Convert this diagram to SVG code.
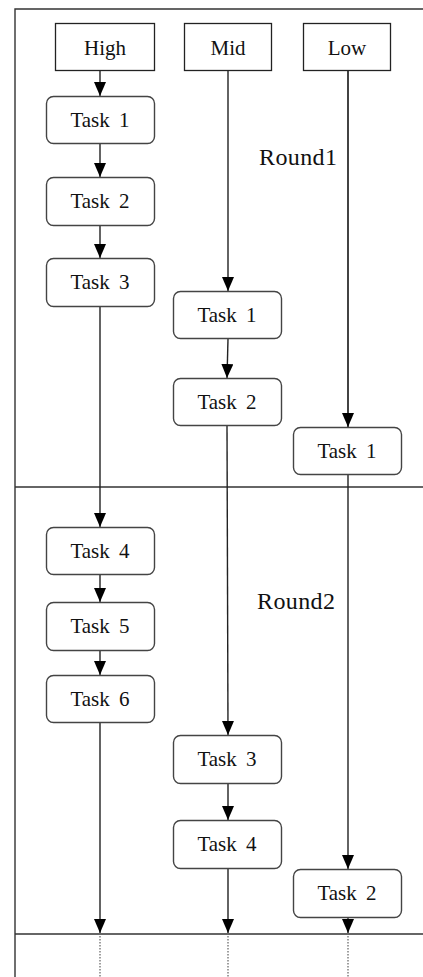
<svg xmlns="http://www.w3.org/2000/svg" width="423" height="977" viewBox="0 0 423 977">
<defs>
<marker id="ah" viewBox="0 0 14 12" refX="14" refY="6" markerWidth="14" markerHeight="12" markerUnits="userSpaceOnUse" orient="auto">
<path d="M0,0 L14,6 L0,12 Z" fill="#000"/>
</marker>
</defs>
<style>
.frame{stroke:#333;stroke-width:1.4;fill:none}
.hdr{fill:#fff;stroke:#222;stroke-width:1.3}
.task{fill:#fff;stroke:#444;stroke-width:1.4}
.t{font-family:"Liberation Serif","Times New Roman",serif;font-size:21px;fill:#111;text-anchor:middle;word-spacing:4px}
.r{font-family:"Liberation Serif","Times New Roman",serif;font-size:24px;fill:#111;letter-spacing:0.4px}
.c{stroke:#222;stroke-width:1.4;fill:none}
.d{stroke:#777;stroke-width:1.4;fill:none;stroke-dasharray:1.5 1.5}
</style>
<g id="frame">
<path class="frame" d="M15,977 L15,9 L423,9"/>
<line class="frame" x1="15" y1="487" x2="423" y2="487"/>
<line class="frame" x1="15" y1="934" x2="423" y2="934"/>
</g>
<g id="connectors">
<line class="c" x1="100" y1="70" x2="100" y2="96" marker-end="url(#ah)"/>
<line class="c" x1="100" y1="144" x2="100" y2="177" marker-end="url(#ah)"/>
<line class="c" x1="100" y1="226" x2="100" y2="258" marker-end="url(#ah)"/>
<line class="c" x1="100" y1="307" x2="100" y2="527" marker-end="url(#ah)"/>
<line class="c" x1="100" y1="575" x2="100" y2="602" marker-end="url(#ah)"/>
<line class="c" x1="100" y1="651" x2="100" y2="675" marker-end="url(#ah)"/>
<line class="c" x1="100" y1="723" x2="100" y2="933" marker-end="url(#ah)"/>
<line class="c" x1="228" y1="70" x2="228" y2="291" marker-end="url(#ah)"/>
<line class="c" x1="228" y1="339" x2="227" y2="378" marker-end="url(#ah)"/>
<line class="c" x1="227" y1="426" x2="228" y2="735" marker-end="url(#ah)"/>
<line class="c" x1="228" y1="784" x2="228" y2="820" marker-end="url(#ah)"/>
<line class="c" x1="228" y1="869" x2="228" y2="933" marker-end="url(#ah)"/>
<line class="c" x1="348" y1="70" x2="348" y2="427" marker-end="url(#ah)" style="stroke-width:1.7"/>
<line class="c" x1="348" y1="475" x2="348" y2="869" marker-end="url(#ah)"/>
<line class="c" x1="348" y1="918" x2="348" y2="933" marker-end="url(#ah)"/>
<line class="d" x1="100" y1="936" x2="100" y2="977"/>
<line class="d" x1="228" y1="936" x2="228" y2="977"/>
<line class="d" x1="348" y1="936" x2="348" y2="977"/>
</g>
<g id="high"><rect class="hdr" x="55.5" y="23.5" width="99" height="47"/><text class="t" x="105" y="55">High</text></g>
<g id="mid"><rect class="hdr" x="184.5" y="23.5" width="87" height="47"/><text class="t" x="228" y="55">Mid</text></g>
<g id="low"><rect class="hdr" x="303.5" y="23.5" width="87" height="47"/><text class="t" x="347" y="55">Low</text></g>
<g id="round1"><text class="r" x="259" y="165">Round1</text></g>
<g id="round2"><text class="r" x="257" y="609">Round2</text></g>
<g id="h-task1"><rect class="task" x="46.5" y="96.5" width="108" height="47" rx="7"/><text class="t" x="100" y="127">Task 1</text></g>
<g id="h-task2"><rect class="task" x="46.5" y="177.5" width="108" height="48" rx="7"/><text class="t" x="100" y="208">Task 2</text></g>
<g id="h-task3"><rect class="task" x="46.5" y="258.5" width="108" height="48" rx="7"/><text class="t" x="100" y="289">Task 3</text></g>
<g id="m-task1"><rect class="task" x="173.5" y="291.5" width="108" height="47" rx="7"/><text class="t" x="227" y="322">Task 1</text></g>
<g id="m-task2"><rect class="task" x="173.5" y="378.5" width="108" height="47" rx="7"/><text class="t" x="227" y="409">Task 2</text></g>
<g id="l-task1"><rect class="task" x="293.5" y="427.5" width="108" height="47" rx="7"/><text class="t" x="347" y="458">Task 1</text></g>
<g id="h-task4"><rect class="task" x="46.5" y="527.5" width="108" height="47" rx="7"/><text class="t" x="100" y="558">Task 4</text></g>
<g id="h-task5"><rect class="task" x="46.5" y="602.5" width="108" height="48" rx="7"/><text class="t" x="100" y="633">Task 5</text></g>
<g id="h-task6"><rect class="task" x="46.5" y="675.5" width="108" height="47" rx="7"/><text class="t" x="100" y="706">Task 6</text></g>
<g id="m-task3"><rect class="task" x="173.5" y="735.5" width="108" height="48" rx="7"/><text class="t" x="227" y="766">Task 3</text></g>
<g id="m-task4"><rect class="task" x="173.5" y="820.5" width="108" height="48" rx="7"/><text class="t" x="227" y="851">Task 4</text></g>
<g id="l-task2"><rect class="task" x="293.5" y="869.5" width="108" height="48" rx="7"/><text class="t" x="347" y="900">Task 2</text></g>
</svg>
